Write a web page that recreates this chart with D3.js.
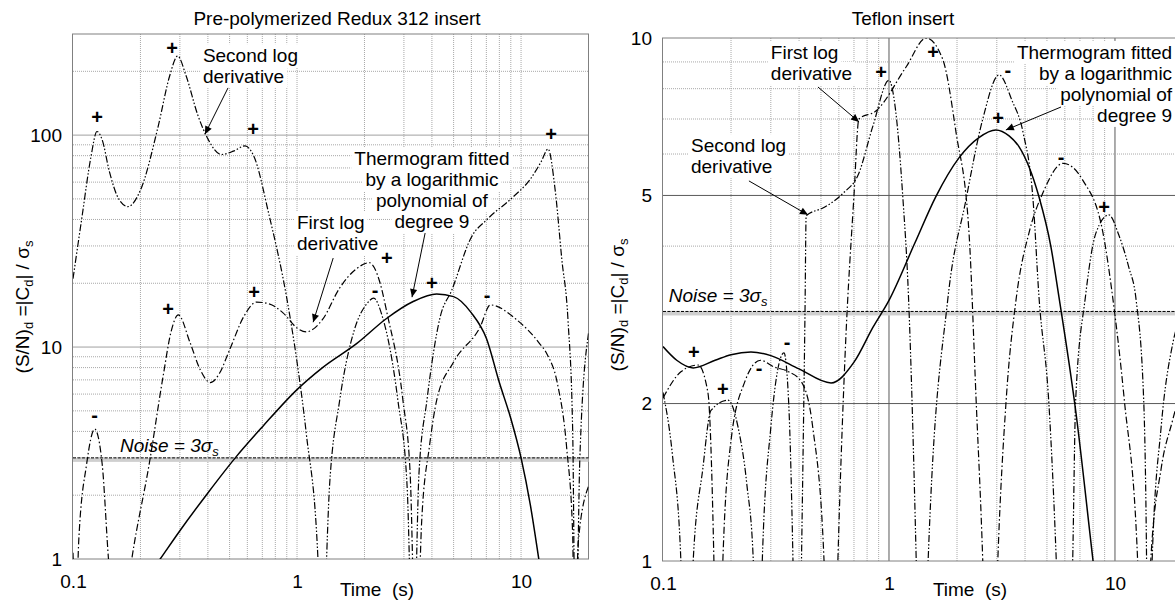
<!DOCTYPE html>
<meta charset="utf-8">
<style>
body { margin: 0; background: #fff; }
svg text { font-family: "Liberation Sans", Arial, Helvetica, sans-serif; fill: #000; }
.frame { fill: none; stroke: #808080; stroke-width: 1; }
.grid-minor { stroke: #a8a8a8; stroke-width: 1; stroke-dasharray: 1,1; }
.grid-major { stroke: #a0a0a0; stroke-width: 1; }
.grid-dark { stroke: #5a5a5a; stroke-width: 1; }
.thermo { fill: none; stroke: #000; stroke-width: 1.5; }
.deriv1 { fill: none; stroke: #000; stroke-width: 1.2; stroke-dasharray: 7,2.5,1.5,2.5; }
.deriv2 { fill: none; stroke: #000; stroke-width: 1.2; stroke-dasharray: 7,2,1.5,2,1.5,2; }
.noise { stroke: #000; stroke-width: 1; stroke-dasharray: 3,1.5; }
.noise-band { fill: #cfcfcf; }
.arrow { stroke: #000; stroke-width: 1; }
.sign { font-weight: bold; font-size: 20px; }
.tick text { font-size: 19px; }
</style>
<body>
<svg id="chart" width="1175" height="603"></svg>
<script src="https://d3js.org/d3.v7.min.js"></script>
<script>
// ---- data (time in s, value = (S/N)_d) ----
const xTicks = [0.1, 1, 10];
const leftYTicks = [1, 10, 100];
const rightYTicks = [1, 2, 5, 10];
const noiseLevel = 3;

// Pre-polymerized Redux 312 insert
const leftThermogram = [[0.22,0.85],[0.245,1],[0.3,1.36],[0.4,2.05],[0.53,3],[0.7,4.2],[1,6.3],[1.3,8.0],[1.85,10.4],
  [2.5,13.6],[3.3,16.4],[4.2,17.8],[5,17.3],[6,14.5],[7,11],[8,6.8],[9,4.6],[10,3],[11,1.8],[12,1],[12.5,0.75]];
const leftFirstDeriv = [[0.1,1.07],[0.103,0.5],[0.106,1.2],[0.115,2.8],[0.125,4.1],[0.135,2.8],[0.144,1.0],[0.16,0.35],
  [0.183,1],[0.22,2.9],[0.252,7.2],[0.275,12],[0.295,14.2],[0.333,10.5],[0.37,7.8],[0.41,6.8],[0.45,7.5],[0.5,9.7],
  [0.58,14],[0.66,16.3],[0.75,16],[0.866,14.5],[1.0,12.3],[1.1,11.8],[1.3,13.5],[1.55,19],[1.85,23.5],[2.1,25],
  [2.35,20],[2.52,14.5],[2.97,5.6],[3.2,2.5],[3.4,0.3],[3.6,1.5],[3.9,3.4],[4.2,5.6],[5,8.5],[6.56,12.4],[7.3,15.8],
  [9.6,13.4],[12,10.5],[13.1,9.2],[14.5,6.8],[16,3.3],[17,1.3],[17.3,0.3],[18,1.2],[20,2.2]];
const leftSecondDeriv = [[0.1,21],[0.11,42],[0.12,78],[0.128,104],[0.135,95],[0.145,68],[0.16,50],[0.176,46],[0.2,55],
  [0.24,110],[0.27,190],[0.293,236],[0.32,190],[0.36,125],[0.40,96],[0.46,81],[0.52,84],[0.586,89],[0.64,80],
  [0.75,42],[0.9,17],[1.0,8.5],[1.1,3.9],[1.24,1.0],[1.28,0.3],[1.4,2.3],[1.55,5.6],[1.8,12],[2.05,16],[2.2,17],
  [2.4,14],[2.82,5.6],[3.1,2.2],[3.3,0.3],[3.5,2.5],[3.8,5.6],[4.35,13.8],[4.9,18.5],[6,33],[7.05,40],[9.2,51],
  [11,62],[12.3,75],[13.2,86],[14.2,55],[15.2,26],[16.2,13.4],[17,4],[17.5,0.3],[18.3,3],[20,11.6]];
const leftPlus = [[0.128,122],[0.277,257],[0.637,107],[0.266,15.1],[0.643,18.2],[2.52,26.3],[4.0,20.0],[13.6,101]];
const leftMinus = [[0.125,4.78],[2.23,18.6],[7.05,17.6]];

// Teflon insert
const rightThermogram = [[0.1,2.57],[0.115,2.42],[0.136,2.34],[0.17,2.42],[0.2,2.48],[0.245,2.51],[0.3,2.47],[0.4,2.33],
  [0.554,2.19],[0.7,2.4],[0.85,2.8],[1,3.15],[1.3,4.05],[1.61,4.97],[2.04,5.9],[2.5,6.45],[2.97,6.67],[3.4,6.5],
  [3.76,6.2],[4.61,4.97],[5.2,4.0],[5.65,3.2],[6.7,1.94],[8,1],[8.5,0.8]];
const rightFirstDeriv = [[0.1,2.05],[0.12,2.3],[0.143,2.37],[0.158,2.1],[0.168,1.0],[0.176,0.3],[0.184,1],[0.2,1.7],
  [0.23,2.2],[0.27,2.42],[0.31,2.35],[0.36,2.3],[0.41,2.2],[0.46,1.8],[0.516,1],[0.555,0.3],[0.594,1],[0.64,2.5],
  [0.7,5.0],[0.736,7.0],[0.875,7.25],[1.19,8.8],[1.46,10],[1.73,9.1],[1.98,6.6],[2.26,4.24],[2.43,2.03],[2.6,1],
  [2.8,0.3],[3.03,1],[3.3,2.03],[3.65,3.16],[4.2,4.3],[4.8,5.06],[5.9,5.76],[7.2,5.35],[8.85,4.24],[9.8,3.16],
  [11,2.03],[12.6,1],[13.5,0.3],[14.4,1],[16,1.5],[18,1.86],[20,2.2]];
const rightSecondDeriv = [[0.1,2.1],[0.11,1.6],[0.12,1],[0.128,0.3],[0.136,1],[0.15,1.5],[0.163,1.94],[0.194,2.03],
  [0.215,1.8],[0.235,1.4],[0.251,1],[0.263,0.3],[0.275,1],[0.3,1.8],[0.343,2.5],[0.36,2.0],[0.376,1],[0.393,0.3],
  [0.41,1],[0.425,3],[0.43,4.57],[0.52,4.75],[0.63,5.06],[0.73,5.47],[0.85,6.8],[1.0,8.3],[1.06,7.5],[1.15,5],
  [1.22,3.2],[1.32,1],[1.4,0.3],[1.49,1],[1.82,3.16],[2.19,4.9],[2.6,7],[3.07,8.5],[3.5,7.6],[3.92,6.6],[4.34,4.9],
  [4.61,3.2],[5.1,2],[5.5,1],[6.0,0.3],[6.5,1],[6.7,2.03],[7.4,3.2],[8.24,4.24],[9.4,4.59],[10.4,4.2],[11.5,3.65],
  [12.4,3.16],[13.4,2.03],[13.8,1],[14.1,0.3],[14.6,1],[16,1.8],[18,2.6],[20,3]];
const rightPlus = [[0.137,2.51],[0.184,2.13],[0.922,8.61],[1.566,9.4],[3.04,7.03],[8.94,4.75]];
const rightMinus = [[0.266,2.34],[0.354,2.62],[3.36,8.69],[5.77,5.92]];

// annotations, anchored in data units
const leftNotes = [
  {lines: ['Second log', 'derivative'], at: [0.38, 221], anchor: 'start', arrow: [[0.492,167],[0.388,101]]},
  {lines: ['First log', 'derivative'], at: [1.0, 36], anchor: 'start', arrow: [[1.45,26.3],[1.18,13.1]]},
  {lines: ['Thermogram fitted', 'by a logarithmic', 'polynomial of', 'degree 9'], at: [4.0, 72], anchor: 'middle', arrow: [[3.73,34.5],[3.26,17.2]]}
];
const rightNotes = [
  {lines: ['First log', 'derivative'], at: [0.30, 9.12], anchor: 'start', arrow: [[0.485,8.06],[0.737,6.91]]},
  {lines: ['Second log', 'derivative'], at: [0.133, 6.05], anchor: 'start', arrow: [[0.24,5.33],[0.438,4.59]]},
  {lines: ['Thermogram fitted', 'by a logarithmic', 'polynomial of', 'degree 9'], at: [17.9, 9.12], anchor: 'end', arrow: [[5.77,7.38],[3.29,6.67]]}
];

const svg = d3.select('#chart');
const defs = svg.append('defs');
defs.append('marker').attr('id', 'arrowhead')
  .attr('viewBox', '0 0 10 10').attr('refX', 10).attr('refY', 5)
  .attr('markerWidth', 10).attr('markerHeight', 8).attr('markerUnits', 'userSpaceOnUse')
  .attr('orient', 'auto')
  .append('path').attr('d', 'M0,0.5L10,5L0,9.5Z').attr('fill', '#000');

// every 1..9 multiple of each decade inside [lo, hi]
function logSteps(lo, hi) {
  const out = [];
  for (let d = Math.pow(10, Math.floor(Math.log10(lo))); d <= hi; d *= 10)
    for (let k = 1; k <= 9; k++) {
      const v = +(d * k).toPrecision(3);
      if (v >= lo - 1e-9 && v <= hi + 1e-9) out.push(v);
    }
  return out;
}

function drawPanel(p) {
  const x = d3.scaleLog().domain(p.xDomain).range(p.xRange);
  const y = d3.scaleLog().domain(p.yDomain).range(p.yRange);
  const [xl, xr] = p.xRange, [yb, yt] = p.yRange;

  const gridLayer = svg.append('g');
  const boxLayer = svg.append('g');
  const curveLayer = svg.append('g').attr('clip-path', 'url(#clip-' + p.name + ')');
  const textLayer = svg.append('g');

  defs.append('clipPath').attr('id', 'clip-' + p.name).append('rect')
    .attr('x', xl).attr('y', yt).attr('width', xr - xl).attr('height', yb - yt);

  // grid
  logSteps(p.xDomain[0], p.xDomain[1]).forEach(v => {
    if (v === p.xDomain[0]) return;
    const cls = p.darkX.includes(v) ? 'grid-dark' : 'grid-minor';
    gridLayer.append('line').attr('class', cls)
      .attr('x1', x(v)).attr('x2', x(v)).attr('y1', yt).attr('y2', yb);
  });
  logSteps(p.yDomain[0], p.yDomain[1]).forEach(v => {
    if (v === p.yDomain[0] || v === p.yDomain[1]) return;
    let cls = 'grid-minor';
    if (p.darkY.includes(v)) cls = 'grid-dark';
    else if (p.majorY.includes(v)) cls = 'grid-major';
    gridLayer.append('line').attr('class', cls)
      .attr('x1', xl).attr('x2', xr).attr('y1', y(v)).attr('y2', y(v));
  });
  gridLayer.append('rect').attr('class', 'frame')
    .attr('x', xl - 0.5).attr('y', yt).attr('width', xr - xl + 0.5).attr('height', yb - yt);

  // noise threshold
  gridLayer.append('rect').attr('class', 'noise-band')
    .attr('x', xl).attr('y', y(noiseLevel)).attr('width', xr - xl).attr('height', 4);
  gridLayer.append('line').attr('class', 'noise')
    .attr('x1', xl).attr('x2', xr).attr('y1', y(noiseLevel)).attr('y2', y(noiseLevel));

  // curves
  const line = d3.line().x(d => x(d[0])).y(d => y(d[1])).curve(d3.curveMonotoneX);
  curveLayer.append('path').datum(p.second).attr('class', 'deriv2').attr('d', line);
  curveLayer.append('path').datum(p.first).attr('class', 'deriv1').attr('d', line);
  curveLayer.append('path').datum(p.thermo).attr('class', 'thermo').attr('d', line);

  // axes
  const xAxis = textLayer.append('g').attr('class', 'tick')
    .attr('transform', 'translate(0,' + (yb + 8) + ')')
    .call(d3.axisBottom(x).tickValues(xTicks).tickFormat(d3.format('~g')).tickSize(0));
  xAxis.select('.domain').remove();
  xAxis.selectAll('text').attr('font-size', 19).attr('dy', '0.95em');

  const yAxis = textLayer.append('g').attr('class', 'tick')
    .attr('transform', 'translate(' + (xl - 8) + ',0)')
    .call(d3.axisLeft(y).tickValues(p.yTicks).tickFormat(d3.format('~g')).tickSize(0));
  yAxis.select('.domain').remove();
  yAxis.selectAll('text').attr('font-size', 19);

  textLayer.append('text').attr('x', p.xTitleX).attr('y', 596)
    .attr('text-anchor', 'middle').attr('font-size', 19).attr('xml:space', 'preserve')
    .text('Time  (s)');
  textLayer.append('text').attr('x', p.titleX).attr('y', 25)
    .attr('text-anchor', 'middle').attr('font-size', 19).text(p.title);

  const yl = textLayer.append('text').attr('font-size', 19).attr('text-anchor', 'middle')
    .attr('transform', 'translate(' + p.yLabelX + ',' + p.yLabelY + ') rotate(-90)');
  yl.append('tspan').text('(S/N)');
  yl.append('tspan').attr('font-size', 13).attr('dy', 4).text('d');
  yl.append('tspan').attr('dy', -4).text(' =|C');
  yl.append('tspan').attr('font-size', 13).attr('dy', 4).text('d');
  yl.append('tspan').attr('dy', -4).text('| / \u03c3');
  yl.append('tspan').attr('font-size', 13).attr('dy', 4).text('s');

  // noise label
  const nt = textLayer.append('text').attr('font-size', 19).attr('font-style', 'italic')
    .attr('x', x(p.noiseAt[0])).attr('y', y(p.noiseAt[1]));
  nt.append('tspan').text('Noise = 3\u03c3');
  nt.append('tspan').attr('font-size', 13).attr('dy', 4).text('s');

  // + / - markers
  p.plus.forEach(d => textLayer.append('text').attr('class', 'sign').attr('text-anchor', 'middle')
    .attr('x', x(d[0])).attr('y', y(d[1])).attr('dy', '0.36em').text('+'));
  p.minus.forEach(d => textLayer.append('text').attr('class', 'sign').attr('text-anchor', 'middle')
    .attr('x', x(d[0])).attr('y', y(d[1])).attr('dy', '0.36em').text('-'));

  // notes with white backing and arrows
  p.notes.forEach(n => {
    n.lines.forEach((s, i) => {
      const t = textLayer.append('text').attr('font-size', 19).attr('text-anchor', n.anchor)
        .attr('x', x(n.at[0])).attr('y', y(n.at[1]) + i * 21).text(s);
      const b = t.node().getBBox();
      boxLayer.append('rect').attr('fill', '#fff')
        .attr('x', b.x - 3).attr('y', b.y - 1).attr('width', b.width + 6).attr('height', b.height + 2);
    });
    textLayer.append('line').attr('class', 'arrow')
      .attr('x1', x(n.arrow[0][0])).attr('y1', y(n.arrow[0][1]))
      .attr('x2', x(n.arrow[1][0])).attr('y2', y(n.arrow[1][1]))
      .attr('marker-end', 'url(#arrowhead)');
  });
}

drawPanel({
  name: 'left', title: 'Pre-polymerized Redux 312 insert', titleX: 337, xTitleX: 377,
  xDomain: [0.1, 20], yDomain: [1, 300], xRange: [73, 588.5], yRange: [559, 34],
  yTicks: leftYTicks, darkX: [], darkY: [], majorY: [10, 100],
  yLabelX: 29, yLabelY: 307, noiseAt: [0.162, 3.2],
  thermo: leftThermogram, first: leftFirstDeriv, second: leftSecondDeriv,
  plus: leftPlus, minus: leftMinus, notes: leftNotes
});
drawPanel({
  name: 'right', title: 'Teflon insert', titleX: 903, xTitleX: 970,
  xDomain: [0.1, 20], yDomain: [1, 10], xRange: [663, 1183], yRange: [561, 38],
  yTicks: rightYTicks, darkX: [1, 10], darkY: [2, 5], majorY: [],
  yLabelX: 624, yLabelY: 305, noiseAt: [0.106, 3.13],
  thermo: rightThermogram, first: rightFirstDeriv, second: rightSecondDeriv,
  plus: rightPlus, minus: rightMinus, notes: rightNotes
});
</script>
</body>
